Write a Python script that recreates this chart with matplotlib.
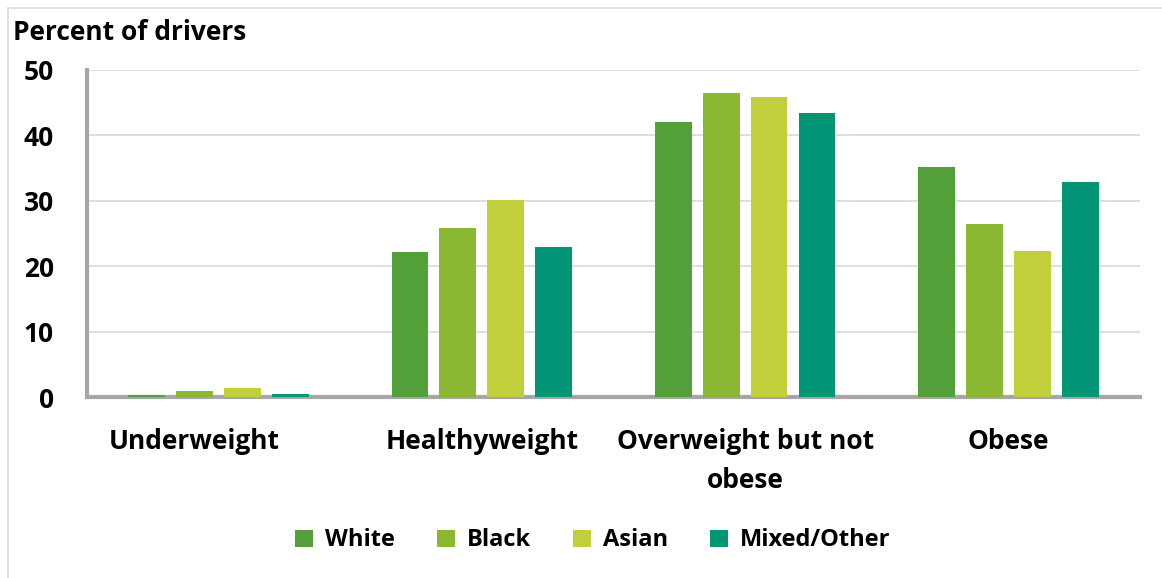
import numpy as np
import matplotlib.pyplot as plt
from matplotlib.patches import Rectangle
from matplotlib.transforms import ScaledTranslation

categories = ["Underweight", "Healthyweight", "Overweight but not\nobese", "Obese"]
groups = ["White", "Black", "Asian", "Mixed/Other"]
white = [0.3, 22.2, 42.1, 35.1]
black = [0.9, 25.8, 46.5, 26.4]
asian = [1.4, 30.1, 45.9, 22.4]
mixed = [0.4, 23.0, 43.4, 32.9]
colors = ["#53A03B", "#8AB833", "#C0CF3A", "#029676"]

plt.rcParams["font.family"] = ["Open Sans", "DejaVu Sans"]
plt.rcParams["font.weight"] = "bold"

fig = plt.figure(figsize=(11.62, 5.78), dpi=100)
ax = fig.add_axes([0.0749, 0.313, 0.9061, 0.566])

x = np.arange(len(categories))
width = 0.14
step = 0.182
for i, (vals, c, name) in enumerate(zip([white, black, asian, mixed], colors, groups)):
    ax.bar(x + (i - 1.5) * step, vals, width=width, color=c, label=name, zorder=3)

ax.set_xlim(-0.5, 3.5)
ax.set_ylim(0, 50)
ax.set_yticks(range(0, 51, 10))
ax.tick_params(axis="y", length=0, labelsize=19, pad=24)
ax.tick_params(axis="x", length=0, labelsize=19, pad=22)
ax.set_xticks(x)
ax.set_xticklabels(categories, fontweight="bold", linespacing=1.6)
for t in ax.get_yticklabels():
    t.set_fontweight("bold")
# first category label sits a bit left of its group in the original
first = ax.get_xticklabels()[0]
first.set_transform(first.get_transform() + ScaledTranslation(-0.24, 0, fig.dpi_scale_trans))
ax.yaxis.grid(True, color="#D9D9D9", linewidth=1.2, zorder=0)
for s in ["top", "right"]:
    ax.spines[s].set_visible(False)
for s in ["left", "bottom"]:
    ax.spines[s].set_color("#A6A6A6")
    ax.spines[s].set_linewidth(3)

fig.text(0.011, 0.943, "Percent of drivers", fontsize=19, fontweight="bold", va="center")

leg = fig.legend(loc="center", bbox_to_anchor=(0.51, 0.065), ncol=4, frameon=False,
                 fontsize=17, handlelength=0.75, handleheight=0.75, handletextpad=0.5,
                 columnspacing=1.8)
for t in leg.get_texts():
    t.set_fontweight("bold")

# light outer frame of the chart area
fig.patches.append(Rectangle((0.007, -0.01), 1.2, 0.996, transform=fig.transFigure,
                             fill=False, edgecolor="#D9D9D9", linewidth=1.2))

fig.savefig("out.png", dpi=100)
